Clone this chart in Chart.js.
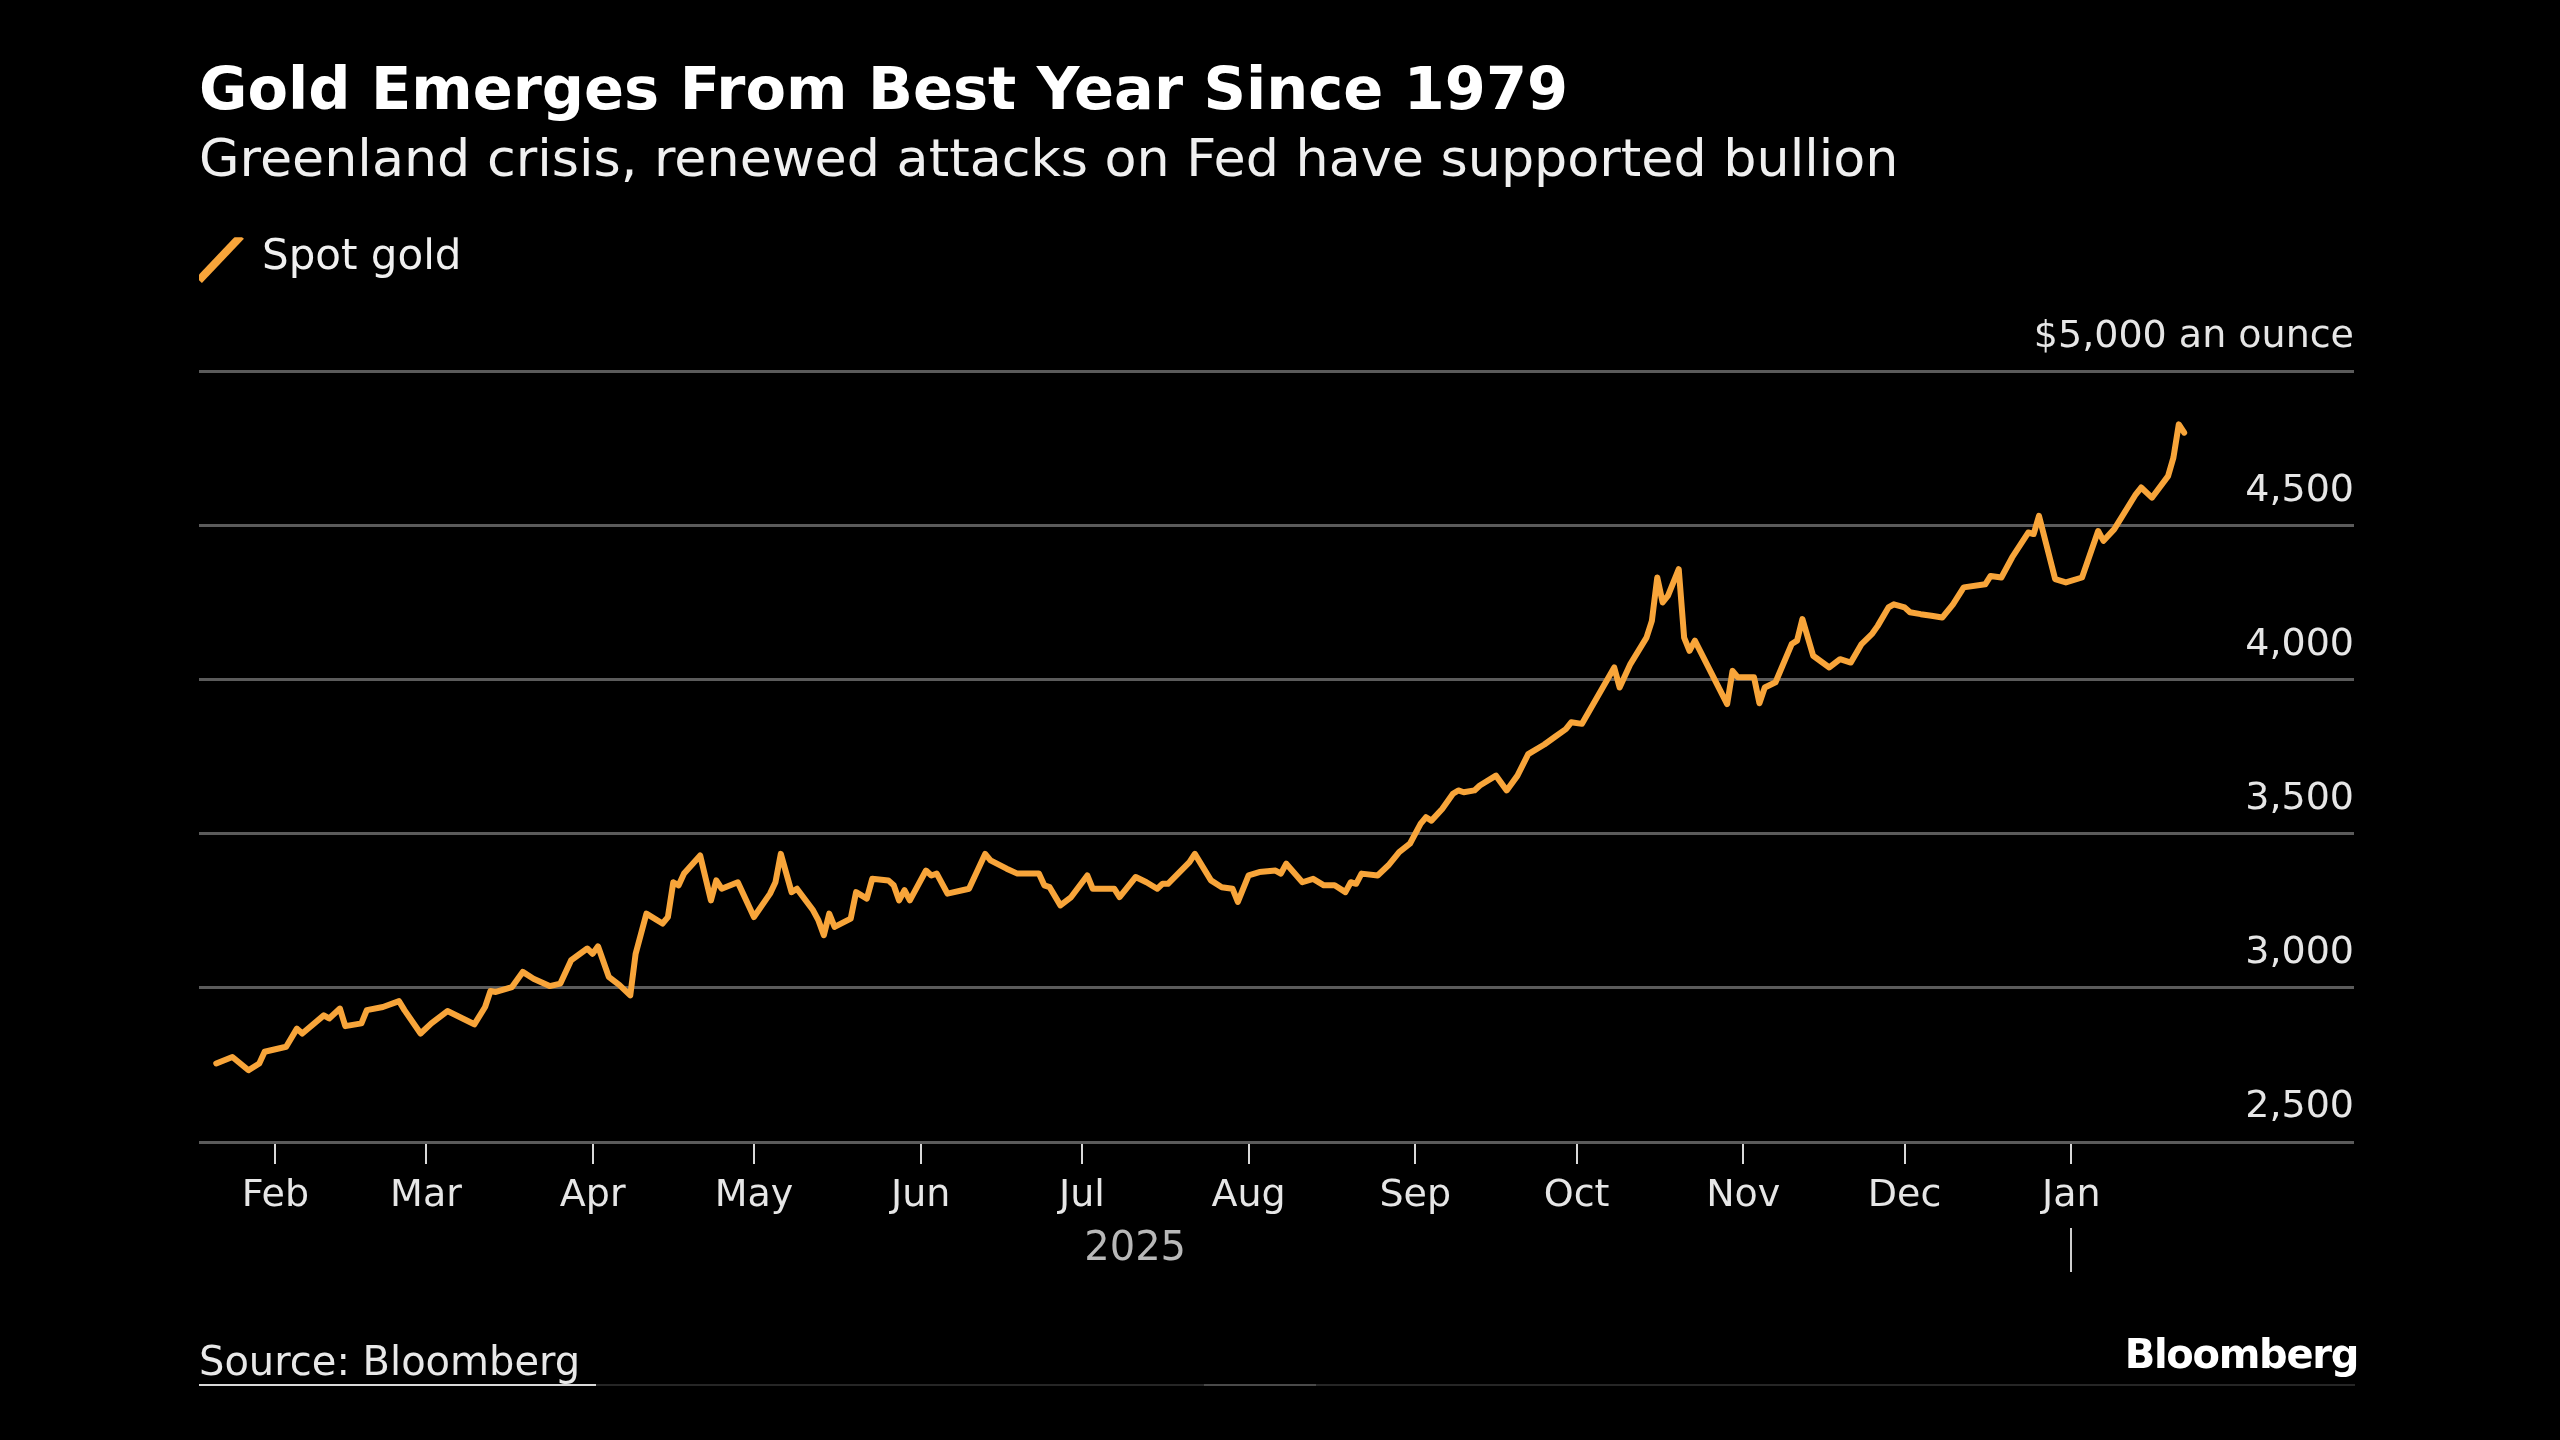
<!DOCTYPE html>
<html>
<head>
<meta charset="utf-8">
<title>Gold Emerges From Best Year Since 1979</title>
<script src="https://cdn.jsdelivr.net/npm/chart.js@4.4.1/dist/chart.umd.min.js"></script>
<style>
  html, body { margin: 0; padding: 0; background: #000; }
  body { width: 2560px; height: 1440px; position: relative; overflow: hidden; font-family: "DejaVu Sans", sans-serif; }
  #chart { position: absolute; left: 0; top: 0; }
  .foot { position: absolute; color: #e8e8e8; font-size: 40px; line-height: 40px; white-space: nowrap; }
  #source { left: 199px; top: 1341px; }
  #brand { right: 202px; top: 1334px; font-weight: bold; letter-spacing: -1.3px; color: #fff; }
  .bar { position: absolute; height: 2px; top: 1384px; }
</style>
</head>
<body>
<canvas id="chart" width="2560" height="1440"></canvas>
<div class="foot" id="source">Source: Bloomberg</div>
<div class="foot" id="brand">Bloomberg</div>
<div class="bar" style="left:199px;width:2156px;background:#262626"></div>
<div class="bar" style="left:199px;width:397px;background:#d8d8d8"></div>
<div class="bar" style="left:1204px;width:112px;background:#4a4a4a"></div>
<script>
var titleText = 'Gold Emerges From Best Year Since 1979';
var subtitleText = 'Greenland crisis, renewed attacks on Fed have supported bullion';
var seriesName = 'Spot gold';

// spot gold, $ an ounce
var dates = [
  '2025-01-21', '2025-01-24', '2025-01-27', '2025-01-29', '2025-01-30', '2025-02-03', '2025-02-05', '2025-02-06',
  '2025-02-10', '2025-02-11', '2025-02-13', '2025-02-14', '2025-02-17', '2025-02-18', '2025-02-21', '2025-02-24',
  '2025-02-25', '2025-02-28', '2025-03-02', '2025-03-05', '2025-03-10', '2025-03-12', '2025-03-13', '2025-03-14',
  '2025-03-17', '2025-03-19', '2025-03-21', '2025-03-24', '2025-03-26', '2025-03-28', '2025-03-31', '2025-04-01',
  '2025-04-02', '2025-04-04', '2025-04-06', '2025-04-08', '2025-04-09', '2025-04-11', '2025-04-14', '2025-04-15',
  '2025-04-16', '2025-04-17', '2025-04-18', '2025-04-21', '2025-04-23', '2025-04-24', '2025-04-25', '2025-04-28',
  '2025-05-01', '2025-05-04', '2025-05-05', '2025-05-06', '2025-05-08', '2025-05-09', '2025-05-12', '2025-05-13',
  '2025-05-14', '2025-05-15', '2025-05-16', '2025-05-19', '2025-05-20', '2025-05-22', '2025-05-23', '2025-05-26',
  '2025-05-27', '2025-05-28', '2025-05-29', '2025-05-30', '2025-06-02', '2025-06-03', '2025-06-04', '2025-06-06',
  '2025-06-10', '2025-06-13', '2025-06-14', '2025-06-17', '2025-06-19', '2025-06-23', '2025-06-24', '2025-06-25',
  '2025-06-27', '2025-06-29', '2025-07-02', '2025-07-03', '2025-07-07', '2025-07-08', '2025-07-11', '2025-07-13',
  '2025-07-15', '2025-07-16', '2025-07-17', '2025-07-21', '2025-07-22', '2025-07-25', '2025-07-27', '2025-07-29',
  '2025-07-30', '2025-08-01', '2025-08-03', '2025-08-06', '2025-08-07', '2025-08-08', '2025-08-11', '2025-08-13',
  '2025-08-15', '2025-08-17', '2025-08-19', '2025-08-20', '2025-08-21', '2025-08-22', '2025-08-25', '2025-08-27',
  '2025-08-29', '2025-08-31', '2025-09-02', '2025-09-03', '2025-09-04', '2025-09-06', '2025-09-08', '2025-09-09',
  '2025-09-10', '2025-09-12', '2025-09-13', '2025-09-16', '2025-09-18', '2025-09-20', '2025-09-22', '2025-09-25',
  '2025-09-27', '2025-09-29', '2025-09-30', '2025-10-02', '2025-10-08', '2025-10-09', '2025-10-11', '2025-10-14',
  '2025-10-15', '2025-10-16', '2025-10-17', '2025-10-18', '2025-10-20', '2025-10-21', '2025-10-22', '2025-10-23',
  '2025-10-29', '2025-10-30', '2025-10-31', '2025-11-03', '2025-11-04', '2025-11-05', '2025-11-07', '2025-11-10',
  '2025-11-11', '2025-11-12', '2025-11-14', '2025-11-17', '2025-11-19', '2025-11-21', '2025-11-23', '2025-11-25',
  '2025-11-26', '2025-11-28', '2025-11-29', '2025-12-01', '2025-12-02', '2025-12-04', '2025-12-06', '2025-12-08',
  '2025-12-10', '2025-12-12', '2025-12-16', '2025-12-17', '2025-12-19', '2025-12-21', '2025-12-24', '2025-12-25',
  '2025-12-26', '2025-12-29', '2025-12-31', '2026-01-03', '2026-01-06', '2026-01-07', '2026-01-09', '2026-01-13',
  '2026-01-14', '2026-01-16', '2026-01-19', '2026-01-20', '2026-01-21', '2026-01-22'
];
var prices = [
  2755, 2776, 2733, 2755, 2793, 2809, 2868, 2852,
  2911, 2901, 2933, 2876, 2885, 2928, 2938, 2957,
  2928, 2852, 2885, 2925, 2882, 2938, 2990, 2987,
  3003, 3052, 3030, 3006, 3014, 3090, 3128, 3111,
  3135, 3036, 3009, 2976, 3111, 3241, 3209, 3230,
  3343, 3333, 3371, 3430, 3284, 3349, 3322, 3343,
  3230, 3306, 3343, 3435, 3311, 3322, 3252, 3219,
  3171, 3241, 3198, 3225, 3311, 3290, 3354, 3349,
  3333, 3284, 3317, 3284, 3381, 3365, 3371, 3306,
  3322, 3435, 3414, 3387, 3371, 3371, 3333, 3327,
  3268, 3295, 3365, 3322, 3322, 3295, 3360, 3343,
  3322, 3338, 3338, 3408, 3435, 3349, 3327, 3322,
  3279, 3365, 3376, 3381, 3371, 3403, 3343, 3354,
  3333, 3333, 3311, 3343, 3338, 3371, 3365, 3398,
  3441, 3468, 3533, 3554, 3543, 3581, 3630, 3641,
  3635, 3641, 3657, 3689, 3641, 3689, 3759, 3790,
  3815, 3840, 3862, 3857, 4040, 3975, 4051, 4137,
  4191, 4332, 4251, 4273, 4359, 4137, 4094, 4127,
  3921, 4029, 4008, 4008, 3924, 3975, 3992, 4116,
  4127, 4197, 4078, 4040, 4067, 4056, 4116, 4150,
  4175, 4235, 4245, 4235, 4219, 4213, 4208, 4202,
  4245, 4300, 4310, 4337, 4332, 4397, 4478, 4473,
  4532, 4327, 4316, 4332, 4483, 4451, 4489, 4602,
  4624, 4591, 4661, 4721, 4829, 4802
];

var monthStarts = ['2025-02-01', '2025-03-01', '2025-04-01', '2025-05-01', '2025-06-01', '2025-07-01',
                   '2025-08-01', '2025-09-01', '2025-10-01', '2025-11-01', '2025-12-01', '2026-01-01'];
var monthLabels = ['Feb', 'Mar', 'Apr', 'May', 'Jun', 'Jul', 'Aug', 'Sep', 'Oct', 'Nov', 'Dec', 'Jan'];
var yearLabel = '2025';
var yearEnd = '2026-01-01';

var yTicks = [2500, 3000, 3500, 4000, 4500, 5000];
var yTopLabel = '$5,000 an ounce';

var FONT = '"DejaVu Sans", sans-serif';

function toTime(s) {
    return Date.parse(s + 'T00:00:00Z');
}

var points = dates.map(function(d, i) { return {x: toTime(d), y: prices[i]}; });
var xMin = Date.UTC(2025, 0, 17, 19);
var xMax = Date.UTC(2026, 1, 22, 14);

var ctx = document.getElementById('chart').getContext('2d');
new Chart(ctx, {
    type: 'line',
    data: {
        datasets: [{
            label: seriesName,
            data: points,
            borderColor: '#f8a53a',
            borderWidth: 6,
            pointRadius: 0,
            tension: 0,
            borderJoinStyle: 'round',
            borderCapStyle: 'round'
        }]
    },
    options: {
        responsive: false,
        animation: false,
        devicePixelRatio: 1,
        layout: {padding: {top: 0, left: 199, right: 206, bottom: 168}},
        plugins: {
            title: {
                display: true,
                text: titleText,
                align: 'start',
                color: '#ffffff',
                font: {family: FONT, size: 59, weight: 'bold', lineHeight: 1.2},
                padding: {top: 58.1, bottom: 0}
            },
            subtitle: {
                display: true,
                text: subtitleText,
                align: 'start',
                color: '#f0f0f0',
                font: {family: FONT, size: 52.3, weight: 'normal', lineHeight: 1.2},
                padding: {top: 2.1, bottom: 43.4}
            },
            legend: {
                display: true,
                position: 'top',
                align: 'start',
                labels: {
                    usePointStyle: true,
                    pointStyleWidth: 42,
                    padding: 0,
                    color: '#f0f0f0',
                    font: {family: FONT, size: 42},
                    generateLabels: function(chart) {
                        var ds = chart.data.datasets[0];
                        return [{
                            text: ds.label,
                            fontColor: '#f0f0f0',
                            pointStyle: 'line',
                            rotation: -48,
                            strokeStyle: ds.borderColor,
                            fillStyle: ds.borderColor,
                            lineWidth: 8,
                            lineCap: 'butt',
                            hidden: false,
                            datasetIndex: 0
                        }];
                    }
                }
            },
            tooltip: {enabled: false}
        },
        scales: {
            x: {
                type: 'linear',
                position: 'bottom',
                min: xMin,
                max: xMax,
                afterBuildTicks: function(axis) {
                    axis.ticks = monthStarts.map(function(s) { return {value: toTime(s)}; });
                },
                afterFit: function(axis) { axis.height = 86; },
                ticks: {
                    autoSkip: false,
                    maxRotation: 0,
                    padding: 9,
                    color: '#e6e6e6',
                    font: {family: FONT, size: 38},
                    callback: function(v, i) { return monthLabels[i]; }
                },
                grid: {drawOnChartArea: false, drawTicks: true, tickLength: 22, lineWidth: 2, tickWidth: 2, tickColor: '#d9d9d9'},
                border: {display: false}
            },
            year: {
                type: 'linear',
                position: 'bottom',
                min: xMin,
                max: xMax,
                afterBuildTicks: function(axis) {
                    axis.ticks = [{value: (xMin + toTime(yearEnd)) / 2}, {value: toTime(yearEnd)}];
                },
                afterFit: function(axis) { axis.height = 44; },
                ticks: {
                    autoSkip: false,
                    maxRotation: 0,
                    padding: -46,
                    color: '#b8b8b8',
                    font: {family: FONT, size: 40},
                    callback: function(v, i) { return i === 0 ? yearLabel : ''; }
                },
                grid: {
                    drawOnChartArea: false,
                    drawTicks: true,
                    tickLength: 44,
                    lineWidth: 2,
                    tickWidth: 2,
                    tickColor: function(c) { return c.index === 1 ? '#cfcfcf' : 'rgba(0,0,0,0)'; }
                },
                border: {display: false}
            },
            gap: {
                type: 'linear',
                position: 'top',
                ticks: {display: false},
                grid: {display: false},
                border: {display: false},
                afterFit: function(axis) { axis.height = 82.5; }
            },
            y: {
                type: 'linear',
                position: 'right',
                min: yTicks[0],
                max: yTicks[yTicks.length - 1],
                afterBuildTicks: function(axis) {
                    axis.ticks = yTicks.map(function(v) { return {value: v}; });
                },
                ticks: {
                    mirror: true,
                    padding: 0,
                    labelOffset: -35,
                    color: '#e6e6e6',
                    font: {family: FONT, size: 38},
                    callback: function(v) { return v === 5000 ? yTopLabel : v.toLocaleString('en-US'); }
                },
                grid: {color: '#5b5b5b', lineWidth: 3, drawTicks: false},
                border: {display: false}
            }
        }
    }
});
</script>
</body>
</html>
